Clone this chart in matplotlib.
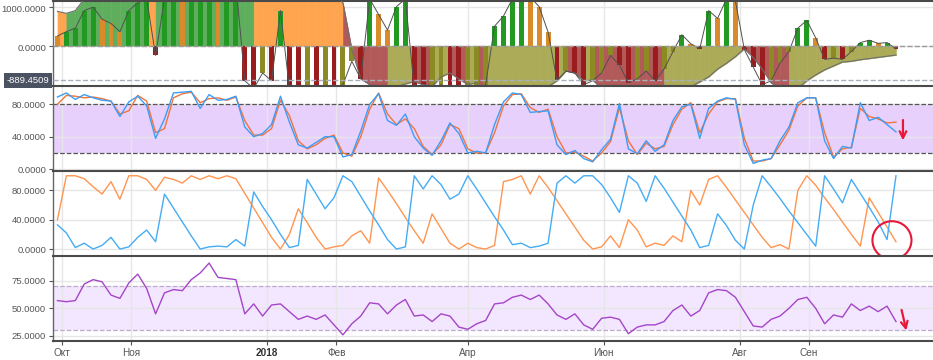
import numpy as np
import pandas as pd
import matplotlib
matplotlib.use("Agg")
import matplotlib.pyplot as plt
import matplotlib.dates as mdates
from matplotlib.patches import Ellipse
from matplotlib.ticker import FuncFormatter
import matplotlib.transforms as mtrans

plt.rcParams["font.family"] = ["Liberation Sans", "DejaVu Sans"]

# ---- data (one value every 4 days) ----
dates = pd.date_range("2017-09-29", periods=95, freq="4D")

osc_slow = [880, 830, 900, 1200, 1400, 1500, 1600, 1700, 1800, 1850,
            1900, 1800, 1850, 1900, 2000, 2050, 2100, 2150, 2200, 2250,
            2300, 2350, 2400, 2300, 2200, 2100, 2000, 1900, 1750, 1600,
            1450, 1300, 1100, -100, -850, -1000, -1050, -1080, -1050, -980,
            -920, -1000, -1050, -800, -700, -850, -1000, -950, -1400, -1350,
            -1300, -1250, -1200, -1150, -1100, -1050, -900, -650, -700, -900,
            -880, -1100, -1150, -1200, -1250, -1300, -1350, -1400, -1420, -1350,
            -1200, -1050, -930, -800, -600, -450, -280, -80, -300, -600,
            -950, -1100, -1150, -1100, -900, -750, -620, -520, -420, -400,
            -360, -330, -300, -270, -240]

osc_fast = [250, 360, 450, 900, 990, 680, 570, 360, 900, 1100,
            1200, -250, 1200, 1250, 1150, 1300, 1400, 1500, 1450, 1550,
            1600, -900, -1100, -700, -900, 900, -1100, -1200, -1150, -1200,
            -1100, -1150, -1000, -400, -850, 1200, 800, 400, 1000, 1200,
            -1100, -1200, -1150, -1000, -1100, -1200, -1150, -1100, -1000, 500,
            760, 1200, 1300, 1250, 1000, 350, -900, -650, -700, -1000,
            -900, -700, -250, -500, -950, -850, -650, -900, -600, -150,
            280, 50, -80, 900, 700, 1200, 1150, -100, -550, -1000,
            -900, -450, -150, 450, 650, 200, -350, -320, -350, -150,
            80, 140, 60, 80, -80]

stoch_k = [89, 94, 86, 92, 88, 85, 84, 65, 83, 90,
           78, 38, 62, 94, 95, 96, 75, 92, 85, 86,
           90, 52, 40, 44, 55, 90, 58, 30, 26, 33,
           40, 40, 15, 18, 47, 80, 93, 60, 54, 68,
           40, 26, 17, 35, 57, 44, 20, 22, 20, 55,
           83, 94, 92, 70, 71, 72, 30, 18, 23, 13,
           9, 24, 37, 81, 25, 19, 35, 22, 30, 60,
           77, 80, 38, 75, 84, 88, 86, 30, 7, 11,
           13, 35, 52, 82, 88, 88, 35, 13, 28, 26,
           82, 60, 64, 55, 46]

stoch_d = [80, 91, 90, 88, 89, 87, 84, 68, 72, 91,
           84, 45, 50, 88, 93, 95, 82, 87, 88, 85,
           89, 60, 42, 42, 50, 85, 66, 35, 25, 30,
           38, 42, 20, 16, 40, 74, 94, 68, 55, 62,
           50, 28, 18, 30, 55, 50, 25, 20, 20, 45,
           78, 92, 93, 76, 70, 74, 40, 20, 21, 16,
           10, 20, 34, 76, 35, 18, 32, 25, 28, 55,
           74, 82, 45, 68, 83, 87, 87, 38, 10, 10,
           13, 30, 48, 78, 88, 88, 45, 15, 25, 27,
           75, 65, 62, 57, 58]

aroon_up = [40, 100, 100, 96, 85, 75, 92, 68, 100, 100,
            95, 80, 98, 95, 90, 100, 95, 100, 96, 100,
            96, 76, 56, 36, 16, 0, 20, 55, 36, 16,
            0, 3, 5, 18, 25, 8, 97, 80, 62, 43,
            25, 8, 48, 28, 8, 0, 8, 2, 0, 5,
            92, 95, 100, 75, 100, 84, 66, 48, 30, 12,
            0, 3, 18, 2, 40, 26, 3, 8, 5, 18,
            10, 80, 60, 95, 100, 84, 67, 50, 33, 16,
            2, 6, 0, 80, 100, 87, 70, 54, 37, 20,
            4, 70, 50, 30, 10]

aroon_down = [33, 22, 2, 8, 0, 5, 16, 0, 3, 16,
              26, 10, 75, 56, 37, 18, 0, 3, 4, 3,
              13, 4, 78, 58, 40, 20, 2, 5, 95, 75,
              55, 70, 100, 92, 72, 52, 33, 13, 0, 3,
              100, 82, 100, 88, 68, 75, 100, 82, 63, 44,
              26, 6, 8, 2, 4, 8, 90, 100, 90, 100,
              100, 88, 70, 50, 100, 90, 65, 100, 83, 64,
              45, 26, 2, 5, 48, 32, 12, 0, 60, 100,
              85, 69, 52, 36, 20, 4, 100, 82, 63, 95,
              76, 57, 37, 13, 100]

rsi = [57, 56, 57, 72, 76, 74, 62, 59, 73, 81,
       68, 45, 64, 67, 66, 76, 82, 91, 78, 77,
       76, 45, 54, 43, 53, 54, 47, 40, 43, 40,
       44, 35, 26, 36, 43, 55, 54, 45, 53, 58,
       43, 44, 38, 45, 43, 33, 31, 36, 39, 54,
       55, 60, 62, 58, 62, 54, 44, 40, 45, 35,
       31, 41, 42, 40, 27, 33, 35, 35, 38, 48,
       53, 43, 48, 64, 67, 66, 60, 47, 34, 33,
       40, 43, 50, 58, 60, 50, 36, 44, 42, 54,
       48, 52, 47, 52, 38]

month_ticks = ["2017-10-01", "2017-11-01", "2018-01-01", "2018-02-01",
               "2018-04-01", "2018-06-01", "2018-08-01", "2018-09-01"]
month_labels = ["Окт", "Ноя", "2018", "Фев", "Апр", "Июн", "Авг", "Сен"]
last_mark = -889.4509

# ---- figure ----
W, H = 933, 360
fig = plt.figure(figsize=(W / 100, H / 100), dpi=100)
xn = mdates.date2num(dates)
x0 = mdates.date2num(pd.Timestamp("2017-10-01"))
xlim = (x0 - 4.0, x0 + 390.6)
tick_x = mdates.date2num(pd.to_datetime(month_ticks))
red = "#e8173a"
grid_c = "#e6e6e6"
dark = "#4a4a4a"


def add_ax(top, bottom):
    return fig.add_axes([53 / W, 1 - bottom / H, 1 - 53 / W, (bottom - top) / H])


def style(ax, yticks, ylim):
    ax.set_xlim(*xlim)
    ax.set_ylim(*ylim)
    ax.set_yticks(yticks)
    ax.yaxis.set_major_formatter(FuncFormatter(lambda v, p: f"{v:.4f}"))
    ax.set_xticks(tick_x)
    ax.tick_params(axis="y", length=3, width=0.8, color="#555", labelsize=6.8,
                   labelcolor="#555", pad=2)
    ax.tick_params(axis="x", length=0, labelbottom=False)
    ax.grid(True, color=grid_c, lw=1)
    ax.set_axisbelow(True)
    for s in ["right", "bottom"]:
        ax.spines[s].set_visible(False)
    ax.spines["top"].set_color(dark)
    ax.spines["top"].set_linewidth(1.5)
    ax.spines["left"].set_color("#666")
    ax.spines["left"].set_linewidth(1)


def pick(vals, i, pal):
    prev = vals[i - 1] if i > 0 else vals[i + 1] * 2 - vals[i]
    rising = vals[i] >= prev
    if vals[i] >= 0:
        return pal[0] if rising else pal[1]
    return pal[3] if rising else pal[2]


area_pal = ["#5eae5e", "#ffa54f", "#b25a5a", "#abab58"]
bar_pal = ["#229a22", "#d98a2a", "#9b1c1c", "#8c8a22"]

# panel 1: oscillator
ax1 = add_ax(1, 85)
style(ax1, [0, 1000], (-1008, 1146))
slow_arr = np.array(osc_slow, dtype=float)
for i in range(len(xn) - 1):
    c = pick(osc_slow, i + 1, area_pal)
    ax1.fill_between(xn[i:i + 2], np.zeros(2), slow_arr[i:i + 2],
                     facecolor=c, edgecolor=c, lw=0.4, zorder=1)
ax1.bar(xn, osc_fast, width=2.2,
        color=[pick(osc_fast, i, bar_pal) for i in range(len(osc_fast))],
        lw=0, zorder=2)
ax1.plot(xn, osc_slow, color="#6e6e6e", lw=0.8, zorder=3)
ax1.plot(xn, osc_fast, color="#505050", lw=0.7, zorder=3)
ax1.axhline(0, ls="--", color="#9a9a9a", lw=1, zorder=4)
ax1.axhline(last_mark, ls="--", color="#a8b0c0", lw=1, zorder=4)
ax1.text(-0.004, last_mark, f"{last_mark:.4f}", color="white", fontsize=6.8,
         ha="right", va="center",
         transform=mtrans.blended_transform_factory(ax1.transAxes, ax1.transData),
         bbox=dict(boxstyle="square,pad=0.3", fc="#4b5262", ec="none"),
         clip_on=False)
shift = mtrans.ScaledTranslation(0, -1.0 / 72, fig.dpi_scale_trans)
for lab in ax1.get_yticklabels():
    lab.set_transform(lab.get_transform() + shift)

# panel 2: stochastic
ax2 = add_ax(86, 170)
style(ax2, [0, 40, 80], (-1.1, 102.6))
ax2.axhspan(20, 80, color="#e8d0fd", zorder=0.5, lw=0)
ax2.axhline(80, ls="--", color="#555", lw=0.9)
ax2.axhline(20, ls="--", color="#555", lw=0.9)
ax2.plot(xn, stoch_d, color="#f0743c", lw=1.0)
ax2.plot(xn, stoch_k, color="#3d9df5", lw=1.0)
ax_x = x0 + (903 - 62) / 2.23
ax2.annotate("", xy=(ax_x, 32), xytext=(ax_x, 64),
             arrowprops=dict(arrowstyle="->", color=red, lw=1.6, mutation_scale=12))

# panel 3: aroon
ax3 = add_ax(171, 255)
style(ax3, [0, 40, 80], (-8.1, 106.5))
ax3.plot(xn, aroon_up, color="#ff9550", lw=1.0)
ax3.plot(xn, aroon_down, color="#45acf5", lw=1.0)
ax3.add_patch(Ellipse((x0 + (892 - 62) / 2.23, 12), 17.5, 52, fill=False,
                      ec=red, lw=1.5, clip_on=False, zorder=5))

# panel 4: rsi
ax4 = add_ax(256, 341)
style(ax4, [25, 50, 75], (20.4, 97.4))
ax4.axhspan(30, 70, color="#f3e6ff", zorder=0.5, lw=0)
ax4.axhline(70, ls="--", color="#bcaccc", lw=0.9)
ax4.axhline(30, ls="--", color="#bcaccc", lw=0.9)
ax4.plot(xn, rsi, color="#a545c8", lw=1.0)
ax4.annotate("", xy=(x0 + (907 - 62) / 2.23, 27.5),
             xytext=(x0 + (901 - 62) / 2.23, 51),
             arrowprops=dict(arrowstyle="->", color=red, lw=1.6, mutation_scale=12),
             annotation_clip=False)
ax4.spines["bottom"].set_visible(True)
ax4.spines["bottom"].set_color(dark)
ax4.spines["bottom"].set_linewidth(1.5)
ax4.tick_params(axis="x", length=3, color="#555", labelbottom=True,
                labelsize=7.2, labelcolor="#555", pad=2)
ax4.set_xticklabels(month_labels)
for lab in ax4.get_xticklabels():
    if lab.get_text() == "2018":
        lab.set_fontweight("bold")
        lab.set_color("#333")

fig.savefig("out.png", dpi=100)
